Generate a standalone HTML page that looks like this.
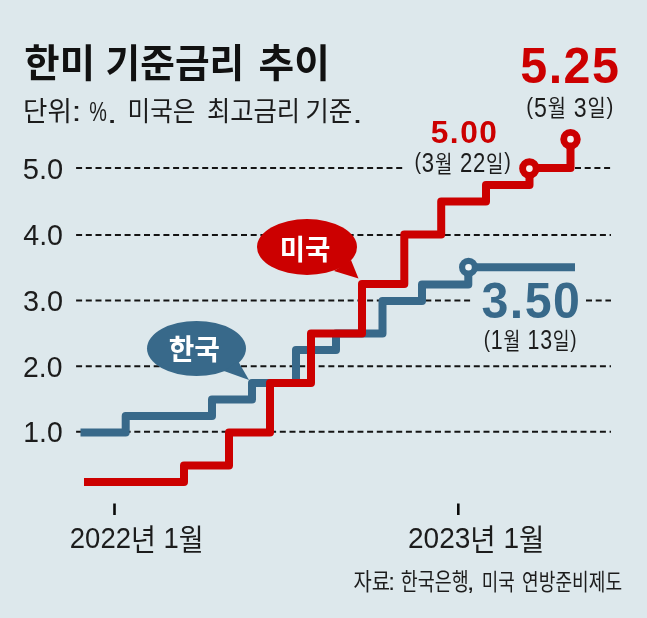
<!DOCTYPE html>
<html lang="ko">
<head>
<meta charset="utf-8">
<title>한미 기준금리 추이</title>
<style>
html,body{margin:0;padding:0;background:#dde8ec;}
body{width:647px;height:618px;overflow:hidden;}
svg{display:block;}
.kr{font-family:"Liberation Sans","Noto Sans CJK KR","NanumGothic",sans-serif;}
</style>
</head>
<body>
<svg width="647" height="618" viewBox="0 0 647 618" class="kr">
<rect id="bg" x="0" y="0" width="647" height="618" fill="#dde8ec"/>

<!-- title -->
<g id="title"><text id="title1" transform="translate(24.30 76.90) scale(0.9844 1)" font-size="39.07" font-weight="700" fill="#111" xml:space="preserve">한미</text> <text id="title2" transform="translate(105.60 76.90) scale(0.9642 1)" font-size="39.07" font-weight="700" fill="#111" xml:space="preserve">기준금리</text> <text id="title3" transform="translate(258.50 76.90) scale(0.9923 1)" font-size="39.07" font-weight="700" fill="#111" xml:space="preserve">추이</text></g>
<g id="subtitle"><text id="sub1a" transform="translate(23.00 121.30) scale(0.9647 1)" font-size="27.50" font-weight="400" fill="#1c1c1c" xml:space="preserve">단위</text><text id="sub1b" transform="translate(71.45 121.30) scale(1.3104 1)" font-size="27.50" font-weight="400" fill="#1c1c1c" xml:space="preserve">:</text> <text id="sub2a" transform="translate(89.25 121.30) scale(0.7217 1)" font-size="27.50" font-weight="400" fill="#1c1c1c" xml:space="preserve">%</text><text id="sub2b" transform="translate(106.70 122.90) scale(1.3956 1)" font-size="27.50" font-weight="400" fill="#1c1c1c" xml:space="preserve">.</text> <text id="sub3" transform="translate(127.55 121.30) scale(0.8953 1)" font-size="27.50" font-weight="400" fill="#1c1c1c" xml:space="preserve">미국은</text> <text id="sub4" transform="translate(206.90 121.30) scale(0.9218 1)" font-size="27.50" font-weight="400" fill="#1c1c1c" xml:space="preserve">최고금리</text> <text id="sub5a" transform="translate(305.25 121.30) scale(0.9324 1)" font-size="27.50" font-weight="400" fill="#1c1c1c" xml:space="preserve">기준</text><text id="sub5b" transform="translate(352.30 122.90) scale(1.3722 1)" font-size="27.50" font-weight="400" fill="#1c1c1c" xml:space="preserve">.</text></g>

<!-- grid -->
<g id="grid" stroke="#141414" stroke-width="2" stroke-dasharray="6 3.7" fill="none">
<path d="M76.1 168.1H405.5M575 168.1H611"/>
<path d="M76.1 234.9H611"/>
<path d="M76.1 300.6H472M586 300.6H611"/>
<path d="M76.1 366.2H611"/>
<path d="M76.1 431.8H611"/>
</g>

<!-- y labels -->
<text id="y5" transform="translate(22.75 178.55) scale(0.9934 1)" font-size="29.27" font-weight="400" fill="#1c1c1c" xml:space="preserve">5.0</text>
<text id="y4" transform="translate(23.25 244.65) scale(0.9634 1)" font-size="29.68" font-weight="400" fill="#1c1c1c" xml:space="preserve">4.0</text>
<text id="y3" transform="translate(23.00 310.75) scale(0.9868 1)" font-size="29.27" font-weight="400" fill="#1c1c1c" xml:space="preserve">3.0</text>
<text id="y2" transform="translate(23.10 376.65) scale(0.9809 1)" font-size="28.88" font-weight="400" fill="#1c1c1c" xml:space="preserve">2.0</text>
<text id="y1" transform="translate(23.25 441.65) scale(0.9870 1)" font-size="28.72" font-weight="400" fill="#1c1c1c" xml:space="preserve">1.0</text>

<!-- Korea line -->
<path id="krline" d="M80.5 432.5H125.7V416H212V399.5H252V383H296V350H336V333.5H382.5V301H422V284.5H468.3V267.3H575" fill="none" stroke="#38698a" stroke-width="8" stroke-linejoin="round"/>
<!-- US line -->
<path id="usline" d="M84 482H184V465.5H229V432.5H270V383H311V333.5H362V284H404.3V234.5H441.2V201.5H486V185H529.5V168H570.5V139.5" fill="none" stroke="#cc0000" stroke-width="8" stroke-linejoin="round"/>

<!-- markers -->
<circle id="mk" cx="468.5" cy="267.2" r="6.4" fill="#f0f5f7" stroke="#38698a" stroke-width="6.2"/>
<circle id="mu1" cx="529.4" cy="168.6" r="6.8" fill="#f8eeee" stroke="#cc0000" stroke-width="6.9"/>
<circle id="mu2" cx="570.5" cy="139.2" r="6.8" fill="#f8eeee" stroke="#cc0000" stroke-width="6.9"/>

<!-- bubbles -->
<g id="bk" fill="#38698a">
<ellipse cx="196.5" cy="348.5" rx="49.5" ry="27.5"/>
<path d="M224 371L249 380L238 361Z"/>
</g>
<text id="kr" transform="translate(168.70 360.25) scale(0.9728 1)" font-size="28.63" font-weight="700" fill="#fff" xml:space="preserve">한국</text>
<g id="bu" fill="#cc0000">
<ellipse cx="307" cy="247" rx="50" ry="28"/>
<path d="M334 271L358.5 278.5L351 260Z"/>
</g>
<text id="us" transform="translate(279.70 260.00) scale(0.9653 1)" font-size="28.55" font-weight="700" fill="#fff" xml:space="preserve">미국</text>

<!-- value labels -->
<text id="v525" transform="translate(520.25 83.25) scale(0.9741 1)" font-size="49.69" font-weight="700" fill="#cc0000" letter-spacing="1.50" xml:space="preserve">5.25</text>
<text id="d525" transform="translate(526.35 116.80) scale(0.8641 1)" font-size="26.80" font-weight="300" fill="#1c1c1c" letter-spacing="0.90" xml:space="preserve"><tspan font-size="23.80" dy="-2.90">(</tspan><tspan dy="2.90">5</tspan><tspan font-weight="400" font-size="22.90" dy="-0.50">월</tspan><tspan dy="0.50"> 3</tspan><tspan font-weight="400" font-size="22.90" dy="-0.50">일</tspan><tspan font-size="23.80" dy="-2.40">)</tspan></text>
<text id="v500" transform="translate(430.75 142.85) scale(0.9999 1)" font-size="31.67" font-weight="700" fill="#cc0000" letter-spacing="1.50" xml:space="preserve">5.00</text>
<text id="d500" transform="translate(414.55 172.30) scale(0.8257 1)" font-size="26.80" font-weight="300" fill="#1c1c1c" letter-spacing="0.90" xml:space="preserve"><tspan font-size="23.80" dy="-2.90">(</tspan><tspan dy="2.90">3</tspan><tspan font-weight="400" font-size="22.90" dy="-0.50">월</tspan><tspan dy="0.50"> 22</tspan><tspan font-weight="400" font-size="22.90" dy="-0.50">일</tspan><tspan font-size="23.80" dy="-2.40">)</tspan></text>
<text id="v350" transform="translate(481.50 317.50) scale(0.9820 1)" font-size="49.19" font-weight="700" fill="#38698a" letter-spacing="1.50" xml:space="preserve">3.50</text>
<text id="d350" transform="translate(483.75 349.40) scale(0.7969 1)" font-size="26.80" font-weight="300" fill="#1c1c1c" letter-spacing="0.90" xml:space="preserve"><tspan font-size="23.80" dy="-2.90">(</tspan><tspan dy="2.90">1</tspan><tspan font-weight="400" font-size="22.90" dy="-0.50">월</tspan><tspan dy="0.50"> 13</tspan><tspan font-weight="400" font-size="22.90" dy="-0.50">일</tspan><tspan font-size="23.80" dy="-2.40">)</tspan></text>

<!-- x axis -->
<path id="ticks" d="M114.5 503.6V514.9M458.3 503.6V514.9" stroke="#0a0a0a" stroke-width="2.6"/>
<text id="x22" transform="translate(69.85 548.40) scale(0.9160 1)" font-size="30.00" font-weight="300" fill="#1c1c1c" xml:space="preserve">2022<tspan font-weight="400" font-size="29.55" dy="1.20">년</tspan><tspan dy="-1.20"> 1</tspan><tspan font-weight="400" font-size="29.55" dy="1.20">월</tspan></text>
<text id="x23" transform="translate(408.00 548.40) scale(0.9343 1)" font-size="30.00" font-weight="300" fill="#1c1c1c" xml:space="preserve">2023<tspan font-weight="400" font-size="29.55" dy="1.20">년</tspan><tspan dy="-1.20"> 1</tspan><tspan font-weight="400" font-size="29.55" dy="1.20">월</tspan></text>

<!-- source -->
<g id="source"><text id="src1a" transform="translate(353.55 589.80) scale(0.8516 1)" font-size="23.30" font-weight="400" fill="#1c1c1c" xml:space="preserve">자료</text><text id="src1b" transform="translate(388.35 589.80) scale(1.0399 1)" font-size="23.30" font-weight="400" fill="#1c1c1c" xml:space="preserve">:</text> <text id="src2a" transform="translate(400.80 589.80) scale(0.7924 1)" font-size="23.30" font-weight="400" fill="#1c1c1c" xml:space="preserve">한국은행</text><text id="src2b" transform="translate(466.85 589.80) scale(1.1971 1)" font-size="23.30" font-weight="400" fill="#1c1c1c" xml:space="preserve">,</text> <text id="src3" transform="translate(481.80 589.80) scale(0.7689 1)" font-size="23.30" font-weight="400" fill="#1c1c1c" xml:space="preserve">미국</text> <text id="src4" transform="translate(522.10 589.80) scale(0.7781 1)" font-size="23.30" font-weight="400" fill="#1c1c1c" xml:space="preserve">연방준비제도</text></g>
</svg>
</body>
</html>
